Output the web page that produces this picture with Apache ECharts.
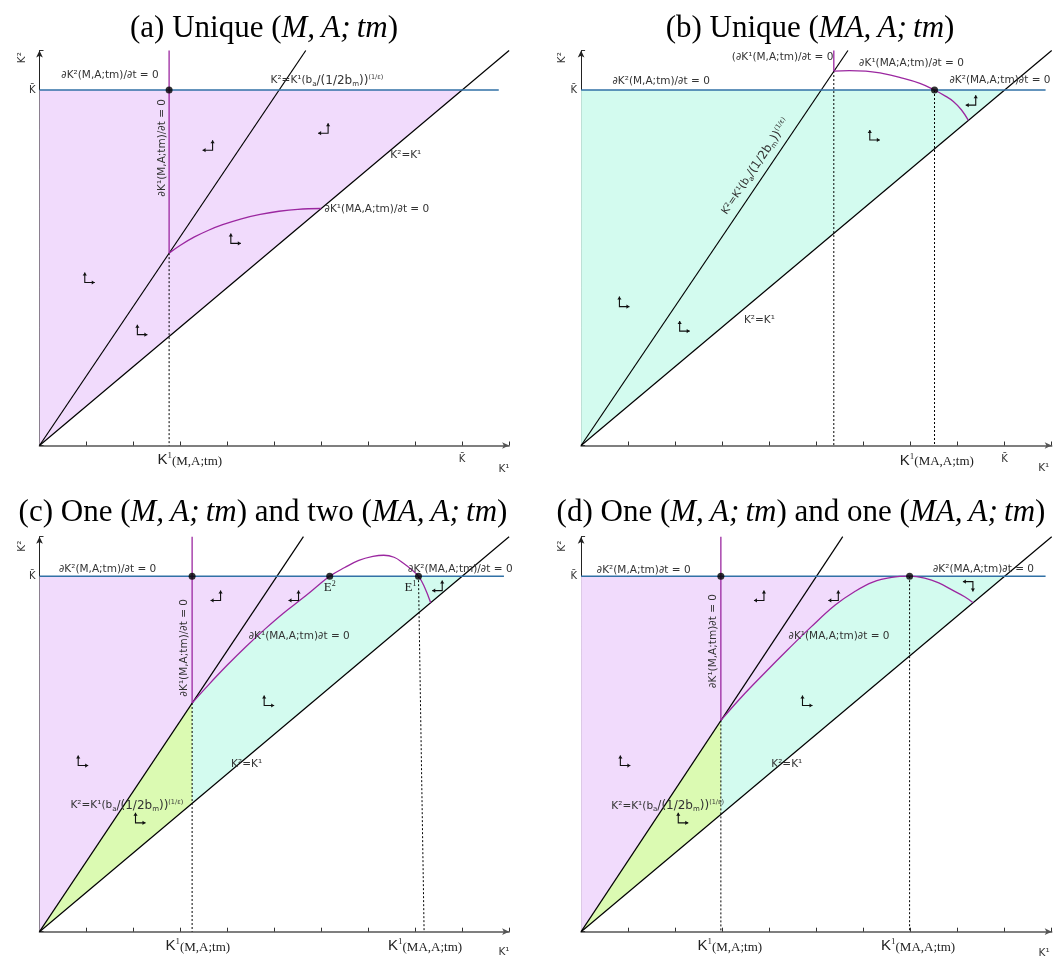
<!DOCTYPE html>
<html><head><meta charset="utf-8">
<script src="https://cdn.jsdelivr.net/npm/echarts@6/dist/echarts.min.js"></script>
<style>html,body{margin:0;padding:0;background:#fff}#c{width:1057px;height:961px}</style>
</head><body><div id="c"></div>
<script>
// ---------- values ----------
const KBAR = 9;
const X_MAX = 10, Y_MAX = 10;
const DIAG = [[0,0],[10,10]];

// Panel (a)
const A_RAY = [[0,0],[5.67,10]];
const A_KBAR = [[0,9],[9.78,9]];
const A_VERT = [[2.76,10],[2.76,4.87]];
const A_DOTTED = [[[2.76,4.87],[2.76,0]]];
const A_CURVE = [[2.76,4.87],[3.0,5.07],[3.3,5.28],[3.6,5.45],[3.9,5.59],[4.3,5.74],[4.7,5.85],[5.1,5.93],[5.5,5.98],[6.0,6.0]];
const A_POINTS = [[2.76,9]];
const A_ARROWS = [[1.06,4.24,'ur'],[2.18,2.92,'ur'],[4.17,5.23,'ur'],[3.59,7.59,'ul'],[6.05,8.02,'ul']];

// Panel (b)
const B_RAY = [[0,0],[5.67,10]];
const B_KBAR = [[0,9],[9.87,9]];
const B_VERT = [[5.37,10],[5.37,9.48]];
const B_DOTTED = [[[5.37,9.48],[5.37,0]],[[7.51,9],[7.51,0]]];
const B_CURVE = [[5.37,9.48],[5.7,9.49],[6.05,9.48],[6.4,9.42],[6.77,9.32],[7.2,9.17],[7.51,9.0],[7.75,8.84],[7.91,8.71],[8.08,8.5],[8.23,8.23]];
const B_POINTS = [[7.51,9]];
const B_ARROWS = [[0.91,3.63,'ur'],[2.19,3.01,'ur'],[6.23,7.85,'ur'],[8.29,8.73,'ul']];

// Panel (c)
const C_RAY = [[0,0],[5.62,10]];
const C_KBAR = [[0,9],[9.89,9]];
const C_VERT = [[3.25,10],[3.25,5.79]];
const C_DOTTED = [[[3.25,5.79],[3.25,0]],[[8.07,9],[8.19,0]]];
const C_CURVE = [[3.25,5.79],[3.6,6.25],[4.0,6.75],[4.4,7.22],[4.8,7.66],[5.2,8.07],[5.6,8.44],[5.9,8.73],[6.18,9.0],[6.5,9.22],[6.8,9.4],[7.1,9.5],[7.33,9.53],[7.55,9.48],[7.75,9.33],[7.92,9.17],[8.07,9.0],[8.2,8.72],[8.33,8.33]];
const C_E2 = 8;   // index of E² in C_CURVE
const C_POINTS = [[3.25,9],[6.18,9],[8.07,9]];
const C_ARROWS = [[3.76,8.5,'ul'],[5.42,8.5,'ul'],[8.48,8.75,'ul'],[4.88,5.84,'ur'],[0.92,4.32,'ur'],[2.14,2.87,'ur']];

// Panel (d)
const D_RAY = [[0,0],[5.56,10]];
const D_KBAR = [[0,9],[9.87,9]];
const D_VERT = [[2.97,10],[2.97,5.35]];
const D_DOTTED = [[[2.97,5.35],[2.97,0]],[[6.98,9],[6.98,0]]];
const D_CURVE = [[2.97,5.35],[3.4,5.93],[3.9,6.55],[4.4,7.15],[4.9,7.73],[5.4,8.27],[5.8,8.6],[6.2,8.85],[6.6,8.97],[6.98,9.0],[7.3,8.95],[7.6,8.83],[7.9,8.64],[8.15,8.48],[8.33,8.33]];
const D_TOP = 9; // index of tangency point in D_CURVE
const D_POINTS = [[2.97,9],[6.98,9]];
const D_ARROWS = [[3.79,8.5,'ul'],[5.37,8.5,'ul'],[8.23,8.75,'dl'],[4.80,5.84,'ur'],[0.93,4.32,'ur'],[2.16,2.87,'ur']];

// ---------- text ----------
const RAY_TXT = 'K²=K¹(b{sub|a}{big|/(1/2b}{sub|m}{big|))}{sup|(1/ε)}';
const axisK = s => '{K|K}{k1|1}{ser|(' + s + ')}';
const TS = '\u2009';
const TITLES = [
  {text:'(a) Unique ({i|M,'+TS+'A;'+TS+'tm})', cx:259, top:8},
  {text:'(b) Unique ({i|MA,'+TS+'A;'+TS+'tm})', cx:805, top:8},
  {text:'(c) One ({i|M,'+TS+'A;'+TS+'tm}) and two ({i|MA,'+TS+'A;'+TS+'tm})', cx:258, top:492},
  {text:'(d) One ({i|M,'+TS+'A;'+TS+'tm}) and one ({i|MA,'+TS+'A;'+TS+'tm})', cx:796, top:492}
];
// [x, y, text, align, rotationDeg]
const A_LABELS = [
  [1.50,9.37,'∂K²(M,A;tm)/∂t = 0','center',0],
  [6.12,9.24,RAY_TXT,'center',0],
  [7.80,7.34,'K²=K¹','center',0],
  [6.07,5.99,'∂K¹(MA,A;tm)/∂t = 0','left',0],
  [2.61,7.54,'∂K¹(M,A;tm)/∂t = 0','center',90],
  [3.2,-0.36,axisK('M,A;tm'),'center',0],
  [9.89,-0.61,'K¹','center',0],
  [-0.37,9.82,'K²','center',90]
];
const B_LABELS = [
  [5.36,9.82,'(∂K¹(M,A;tm)/∂t = 0','right',0],
  [1.70,9.22,'∂K²(M,A;tm)/∂t = 0','center',0],
  [7.02,9.67,'∂K¹(MA;A;tm)/∂t = 0','center',0],
  [8.90,9.24,'∂K²(MA,A;tm)∂t = 0','center',0],
  [3.71,7.06,RAY_TXT,'center',56],
  [3.79,3.16,'K²=K¹','center',0],
  [7.56,-0.38,axisK('MA,A;tm'),'center',0],
  [9.83,-0.57,'K¹','center',0],
  [-0.41,9.82,'K²','center',90]
];
const C_LABELS = [
  [1.45,9.18,'∂K²(M,A;tm)/∂t = 0','center',0],
  [8.96,9.18,'∂K²(MA,A;tm)/∂t = 0','center',0],
  [6.18,8.71,'{E|E}{Es|2}','center',0],
  [7.9,8.71,'{E|E}{Es|1}','center',0],
  [5.53,7.49,'∂K¹(MA,A;tm)∂t = 0','center',0],
  [3.08,7.19,'∂K¹(M,A;tm)/∂t = 0','center',90],
  [4.41,4.25,'K²=K¹','center',0],
  [1.86,3.19,RAY_TXT,'center',0],
  [3.37,-0.36,axisK('M,A;tm'),'center',0],
  [8.21,-0.36,axisK('MA,A;tm'),'center',0],
  [9.89,-0.53,'K¹','center',0],
  [-0.37,9.76,'K²','center',90]
];
const D_LABELS = [
  [1.33,9.16,'∂K²(M,A;tm)∂t = 0','center',0],
  [8.55,9.18,'∂K²(MA,A;tm)∂t = 0','center',0],
  [5.48,7.49,'∂K¹(MA,A;tm)∂t = 0','center',0],
  [2.81,7.36,'∂K¹(M,A;tm)∂t = 0','center',90],
  [4.37,4.25,'K²=K¹','center',0],
  [1.84,3.18,RAY_TXT,'center',0],
  [3.16,-0.36,axisK('M,A;tm'),'center',0],
  [7.16,-0.36,axisK('MA,A;tm'),'center',0],
  [9.84,-0.54,'K¹','center',0],
  [-0.41,9.76,'K²','center',90]
];

// ---------- styles ----------
const PURPLE_FILL = '#f1dbfc', TEAL_FILL = '#d3fbef', GREEN_FILL = '#dbfab2';
const BLUE = '#3171a6', PURPLE = '#9b27a0', INK = '#000', TXT = '#333';
const SANS = 'DejaVu Sans', SERIF = 'Liberation Serif';
const RICH = {
  big:{fontFamily:SANS,fontSize:12,fill:TXT},
  sub:{fontFamily:SANS,fontSize:7,fill:TXT,padding:[7,0,0,0]},
  sup:{fontFamily:SANS,fontSize:6.5,fill:TXT,padding:[0,0,7,0]},
  K:{fontFamily:'Liberation Sans',fontSize:15,fill:'#222'},
  k1:{fontFamily:SERIF,fontSize:9,fill:'#222',padding:[0,0,8,0]},
  ser:{fontFamily:SERIF,fontSize:13,fill:'#222',padding:[3,0,0,0]},
  E:{fontFamily:SERIF,fontSize:13,fill:'#222'},
  Es:{fontFamily:SERIF,fontSize:8,fill:'#222',padding:[0,0,7,0]}
};

// ---------- builders ----------
const grids = [
  {left:39.5, top:50.5, width:469.6, height:395},
  {left:581.1, top:50.5, width:470.6, height:395},
  {left:39.5, top:536.7, width:469.6, height:395},
  {left:581.1, top:536.7, width:470.6, height:395}
];
const showXKbar = [true,true,false,false];

function polySeries(i, pts, color){
  return {type:'custom', xAxisIndex:i, yAxisIndex:i, data:[[0,0]], silent:true, z:1, animation:false,
    renderItem:(p, api)=>({type:'polygon', shape:{points:pts.map(q=>api.coord(q))}, style:{fill:color}})};
}
function lineSeries(i, pts, color, width, type, z, smooth){
  return {type:'line', xAxisIndex:i, yAxisIndex:i, data:pts, symbol:'none', showSymbol:false, smooth:smooth||false,
    lineStyle:{color:color, width:width, type:type||'solid'}, z:z, silent:true, animation:false};
}
function dotSeries(i, pts){
  return {type:'scatter', xAxisIndex:i, yAxisIndex:i, data:pts, symbolSize:7, itemStyle:{color:'#000'}, z:9, silent:true, animation:false};
}
function arrowSeries(i, items){
  return {type:'custom', xAxisIndex:i, yAxisIndex:i, data:items.map(a=>[a[0],a[1]]), silent:true, z:10, animation:false,
    renderItem:(params, api)=>{
      const t = items[params.dataIndex][2];
      const c = api.coord([api.value(0), api.value(1)]);
      const s = 4.5, h = 3;
      let corner, vEnd, hEnd, vDir, hDir;
      if (t==='ur'){ corner=[c[0]-s,c[1]+s]; vEnd=[c[0]-s,c[1]-s-1]; hEnd=[c[0]+s+1,c[1]+s]; vDir=-1; hDir=1; }
      else if (t==='ul'){ corner=[c[0]+s,c[1]+s]; vEnd=[c[0]+s,c[1]-s-1]; hEnd=[c[0]-s-1,c[1]+s]; vDir=-1; hDir=-1; }
      else { corner=[c[0]+s,c[1]-s]; vEnd=[c[0]+s,c[1]+s+1]; hEnd=[c[0]-s-1,c[1]-s]; vDir=1; hDir=-1; }
      const vHead = [[vEnd[0],vEnd[1]],[vEnd[0]-h*0.7,vEnd[1]-vDir*h],[vEnd[0]+h*0.7,vEnd[1]-vDir*h]];
      const hHead = [[hEnd[0],hEnd[1]],[hEnd[0]-hDir*h,hEnd[1]-h*0.7],[hEnd[0]-hDir*h,hEnd[1]+h*0.7]];
      return {type:'group', children:[
        {type:'polyline', shape:{points:[vEnd,corner,hEnd]}, style:{stroke:'#111', lineWidth:1.1, fill:null}},
        {type:'polygon', shape:{points:vHead}, style:{fill:'#111'}},
        {type:'polygon', shape:{points:hHead}, style:{fill:'#111'}}
      ]};
    }};
}
function textSeries(i, items){
  return {type:'custom', xAxisIndex:i, yAxisIndex:i, data:items.map(a=>[a[0],a[1]]), silent:true, z:12, clip:false, animation:false,
    renderItem:(params, api)=>{
      const it = items[params.dataIndex];
      const p = api.coord([api.value(0), api.value(1)]);
      return {type:'text', x:p[0], y:p[1], rotation:(it[4]||0)*Math.PI/180,
        style:{text:it[2], fontFamily:SANS, fontSize:10.5, fill:TXT, align:it[3]||'center', verticalAlign:'middle', rich:RICH}};
    }};
}

const xAxes = [], yAxes = [], series = [];
grids.forEach((g, i)=>{
  xAxes.push({type:'value', gridIndex:i, min:0, max:X_MAX, interval:1,
    axisLine:{show:true, onZero:false, lineStyle:{color:'#555', width:1.6}, symbol:['none','arrow'], symbolSize:[5,7]},
    axisTick:{show:true, inside:true, length:4, lineStyle:{color:'#333'}},
    axisLabel:{show:true, margin:9, fontFamily:SANS, fontSize:10, color:TXT, formatter:v=>(showXKbar[i] && v===KBAR)?'K\u0304':''},
    splitLine:{show:false}});
  yAxes.push({type:'value', gridIndex:i, min:0, max:Y_MAX, interval:1,
    axisLine:{show:true, onZero:false, lineStyle:{color:'#222', width:1}, symbol:['none','arrow'], symbolSize:[5,7]},
    axisTick:{show:true, inside:true, length:4, lineStyle:{color:'#333'}},
    axisLabel:{show:true, margin:4, fontFamily:SANS, fontSize:10, color:TXT, formatter:v=>v===KBAR?'K\u0304':''},
    splitLine:{show:false}});
});

function buildPanel(i, o){
  o.fills.forEach(f=>series.push(polySeries(i, f[0], f[1])));
  o.dotted.forEach(d=>series.push(lineSeries(i, d, '#000', 1, [2,2], 3)));
  series.push(lineSeries(i, DIAG, INK, 1.2, 'solid', 4));
  series.push(lineSeries(i, o.ray, INK, 1.2, 'solid', 4));
  series.push(lineSeries(i, o.kbar, BLUE, 1.6, 'solid', 5));
  series.push(lineSeries(i, o.vert, PURPLE, 1.3, 'solid', 6));
  series.push(lineSeries(i, o.curve, PURPLE, 1.3, 'solid', 6, 0.4));
  series.push(dotSeries(i, o.points));
  series.push(arrowSeries(i, o.arrows));
  series.push(textSeries(i, o.labels));
}

const cusp = c => c[0];
buildPanel(0, {
  fills:[[[[0,0],[0,KBAR],[KBAR,KBAR]], PURPLE_FILL]],
  dotted:A_DOTTED, ray:A_RAY, kbar:A_KBAR, vert:A_VERT, curve:A_CURVE, points:A_POINTS, arrows:A_ARROWS, labels:A_LABELS});
buildPanel(1, {
  fills:[[[[0,0],[0,KBAR],[KBAR,KBAR]], TEAL_FILL]],
  dotted:B_DOTTED, ray:B_RAY, kbar:B_KBAR, vert:B_VERT, curve:B_CURVE, points:B_POINTS, arrows:B_ARROWS, labels:B_LABELS});
(function(){
  const up = C_CURVE.slice(0, C_E2+1);
  const k = cusp(C_CURVE);
  buildPanel(2, {
    fills:[
      [[[0,0],[0,KBAR]].concat(up.slice().reverse()), PURPLE_FILL],
      [up.concat([[KBAR,KBAR],[k[0],k[0]]]), TEAL_FILL],
      [[[0,0],k,[k[0],k[0]]], GREEN_FILL]],
    dotted:C_DOTTED, ray:C_RAY, kbar:C_KBAR, vert:C_VERT, curve:C_CURVE, points:C_POINTS, arrows:C_ARROWS, labels:C_LABELS});
})();
(function(){
  const up = D_CURVE.slice(0, D_TOP+1);
  const k = cusp(D_CURVE);
  buildPanel(3, {
    fills:[
      [[[0,0],[0,KBAR]].concat(up.slice().reverse()), PURPLE_FILL],
      [up.concat([[KBAR,KBAR],[k[0],k[0]]]), TEAL_FILL],
      [[[0,0],k,[k[0],k[0]]], GREEN_FILL]],
    dotted:D_DOTTED, ray:D_RAY, kbar:D_KBAR, vert:D_VERT, curve:D_CURVE, points:D_POINTS, arrows:D_ARROWS, labels:D_LABELS});
})();

const chart = echarts.init(document.getElementById('c'), null, {renderer:'canvas'});
chart.setOption({
  animation:false,
  backgroundColor:'#fff',
  title: TITLES.map(t=>({text:t.text, left:t.cx, top:t.top, textAlign:'center',
    textStyle:{fontFamily:SERIF, fontSize:31, fontWeight:'normal', color:'#000',
      rich:{i:{fontFamily:SERIF, fontSize:31, fontStyle:'italic', color:'#000'}}}})),
  grid: grids,
  xAxis: xAxes,
  yAxis: yAxes,
  series: series
});
</script></body></html>
